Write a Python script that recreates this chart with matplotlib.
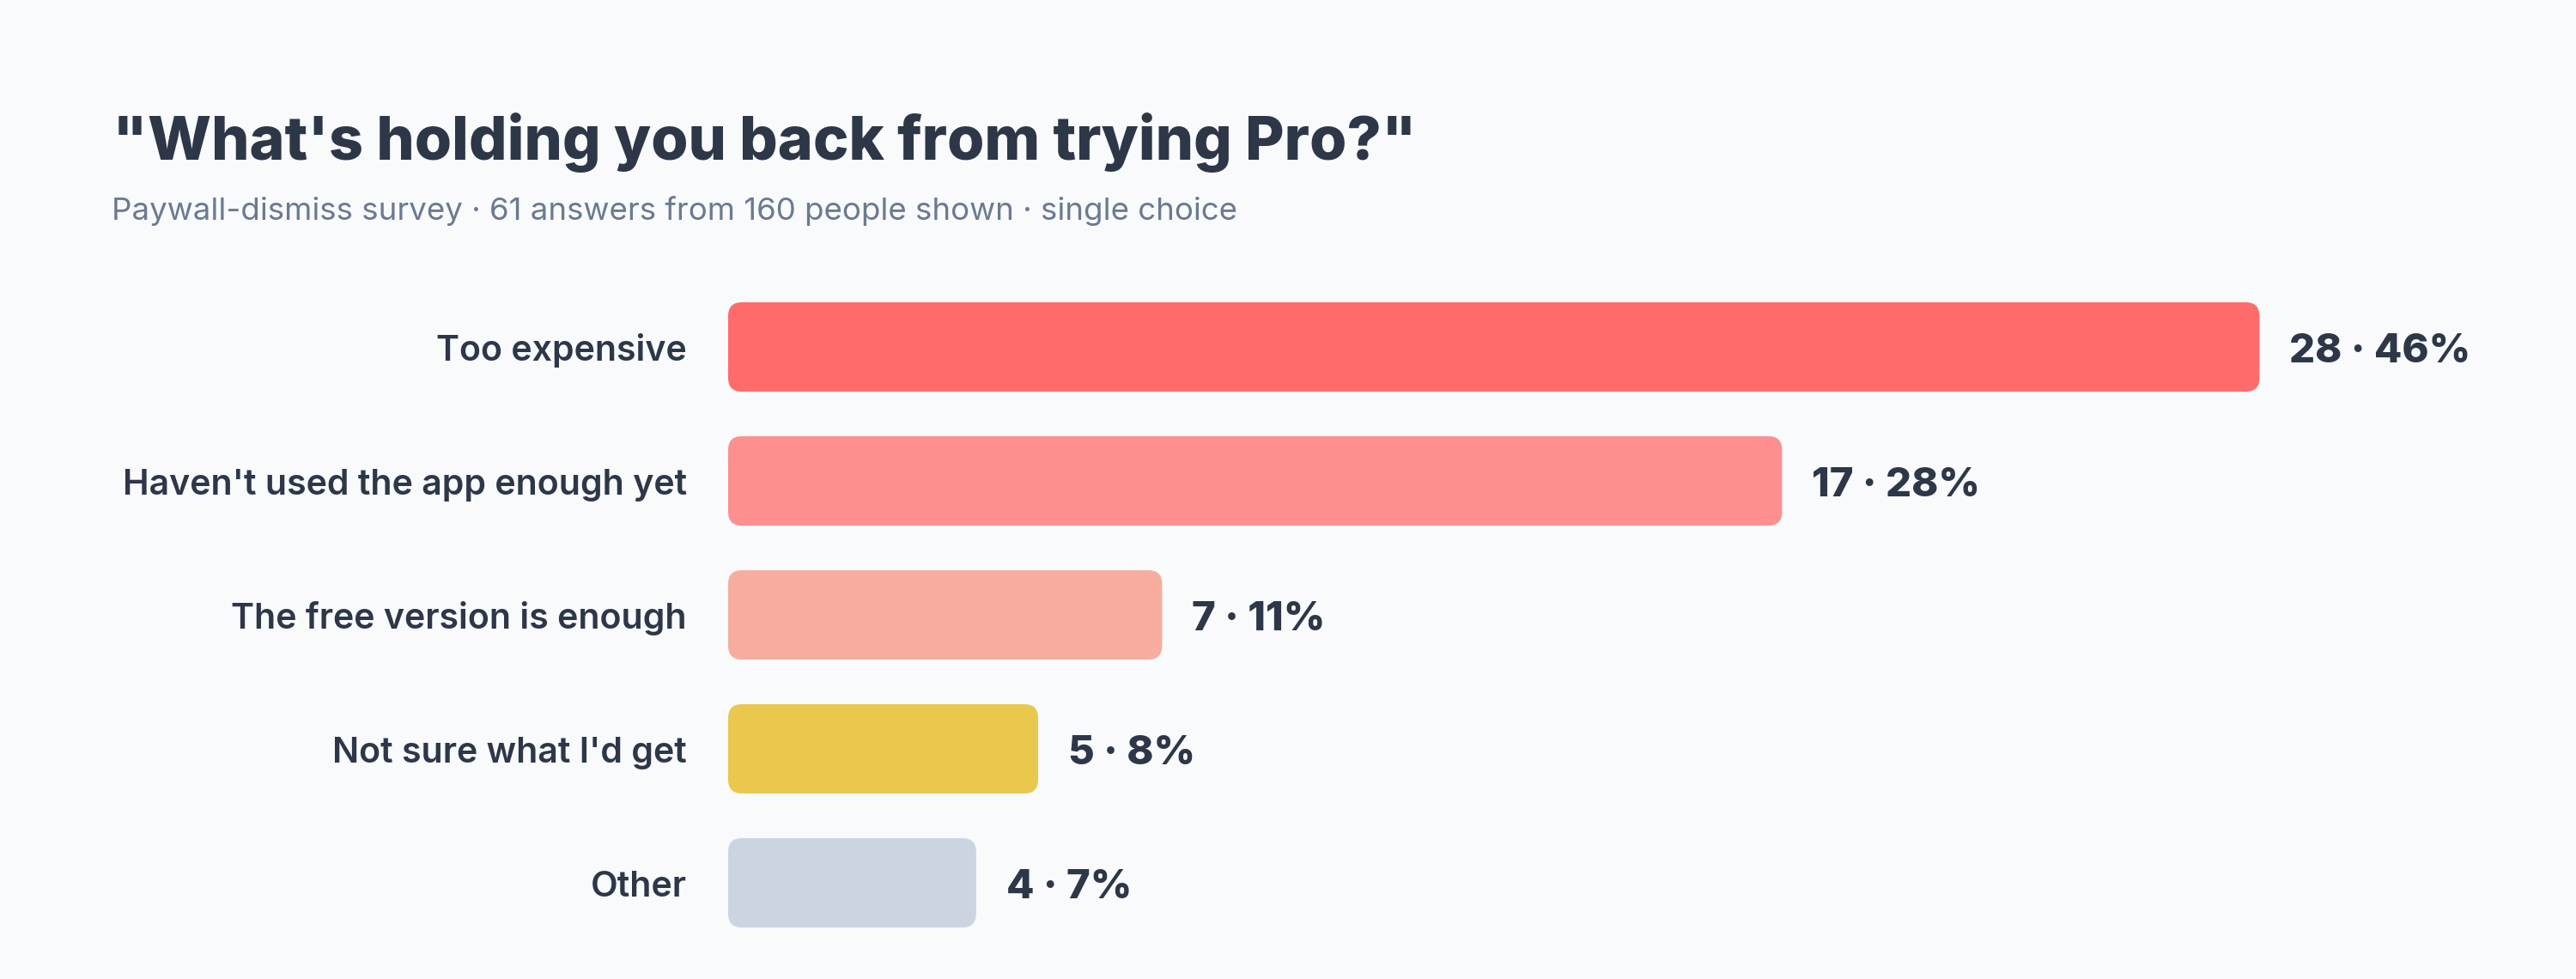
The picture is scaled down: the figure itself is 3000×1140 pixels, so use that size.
import numpy as np
import matplotlib
matplotlib.use('Agg')
import matplotlib.pyplot as plt
from matplotlib.patches import FancyBboxPatch

# survey answers
reasons = ['Too expensive', "Haven't used the app enough yet", 'The free version is enough',
           "Not sure what I'd get", 'Other']
counts = [28, 17, 7, 5, 4]
shares = [46, 28, 11, 8, 7]
colors = ['#ff6b6b', '#fd8f8e', '#f6ad9f', '#eac84e', '#cbd5e1']

title = '"What\'s holding you back from trying Pro?"'
subtitle = 'Paywall-dismiss survey · 61 answers from 160 people shown · single choice'

bar_cap = 24.7  # longest bar is cut short in the original chart

plt.rcParams['font.family'] = ['Inter', 'DejaVu Sans']
bg = '#f8fafc'
dark = '#2d3748'

W, H, DPI = 3000, 1140, 200
fig = plt.figure(figsize=(W / DPI, H / DPI), dpi=DPI, facecolor=bg)

# axes placed in pixels: bars start at x=848, rows 156 px apart
left, right, top, bottom = 848, 2848, 326, 1106
ax = fig.add_axes([left / W, 1 - bottom / H, (right - left) / W, (bottom - top) / H])
ax.set_facecolor(bg)
px_per_unit = 72.2
ax.set_xlim(0, (right - left) / px_per_unit)
ax.set_ylim(len(reasons) - 0.5, -0.5)
ax.axis('off')

bar_h = 104 / 156
radius = 16 / px_per_unit
aspect = px_per_unit / 156

widths = np.minimum(counts, bar_cap)
for i, (name, w, n, s, c) in enumerate(zip(reasons, widths, counts, shares, colors)):
    box = FancyBboxPatch((0, i - bar_h / 2), w, bar_h,
                         boxstyle=f'round,pad=0,rounding_size={radius}',
                         mutation_aspect=aspect, fc=c, ec='none')
    ax.add_patch(box)
    ax.annotate(name, xy=(0, i), xytext=(-17.3, -5.6), textcoords='offset points',
                ha='right', va='baseline', fontsize=14.8, fontweight='semibold', color=dark)
    ax.annotate(f'{n} · {s}%', xy=(w, i), xytext=(12.6, -6.3), textcoords='offset points',
                ha='left', va='baseline', fontsize=17, fontweight='heavy', color=dark)

fig.text(131 / W, 1 - 186 / H, title, ha='left', va='baseline',
         fontsize=25.2, fontweight='heavy', color=dark)
fig.text(130 / W, 1 - 256 / H, subtitle, ha='left', va='baseline',
         fontsize=13.2, color='#6b7a90')

fig.savefig('out.png', dpi=DPI, facecolor=bg)
